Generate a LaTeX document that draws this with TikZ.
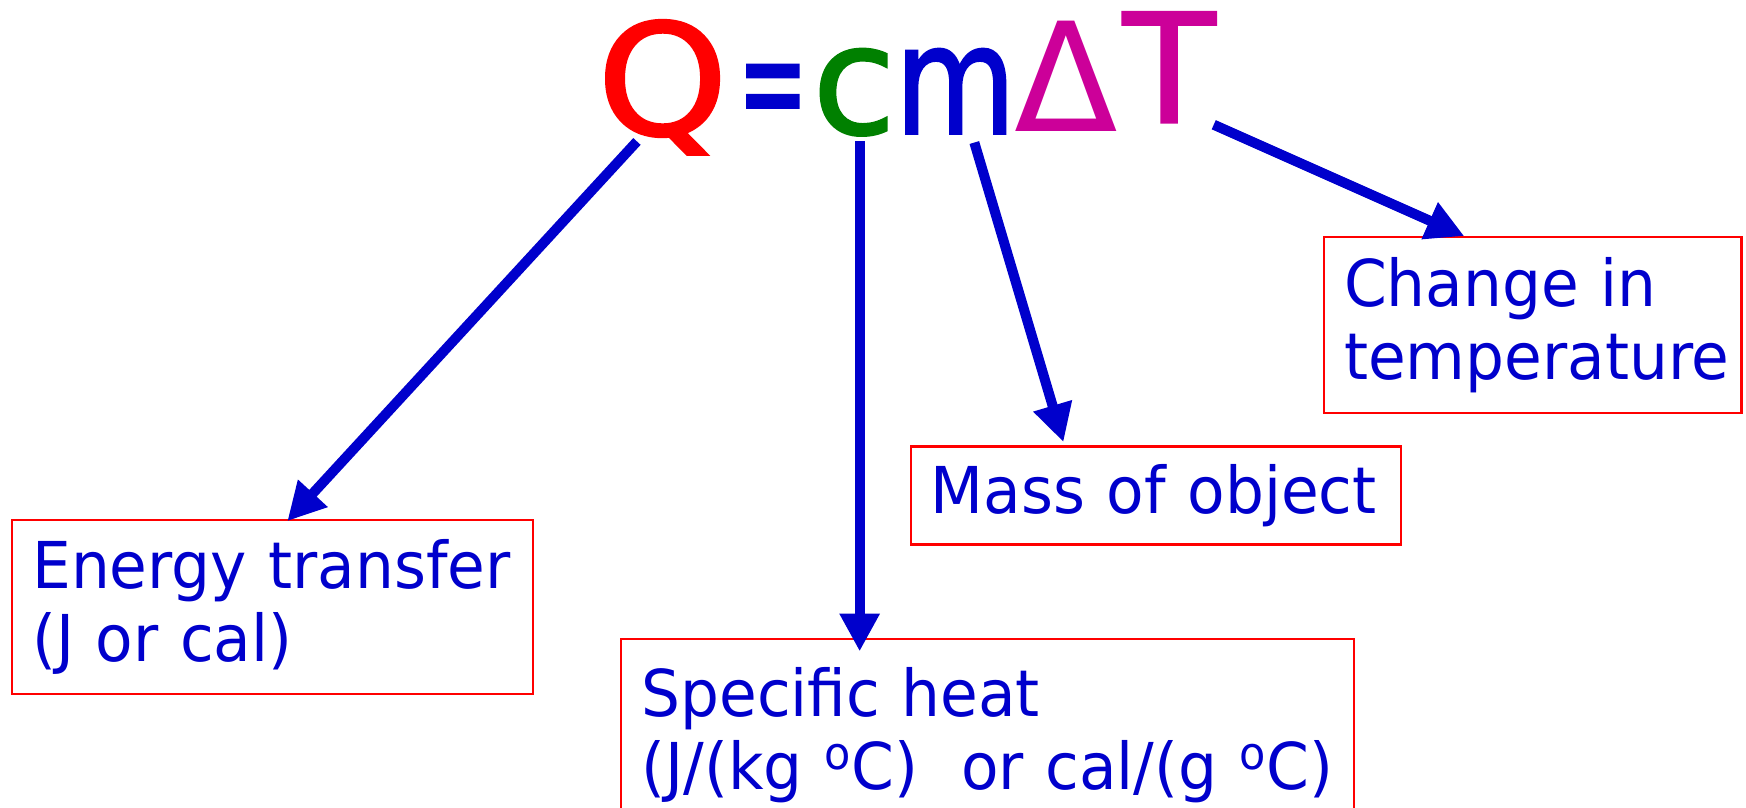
\documentclass[tikz,border=0pt]{standalone}
\usepackage{fontspec}
\setmainfont{DejaVu Sans}
\newfontfamily\boxfont[FakeStretch=0.95]{DejaVu Sans}
\newfontfamily\titlefont[FakeBold=1.6]{DejaVu Sans}
\usetikzlibrary{arrows.meta}
\definecolor{qred}{HTML}{FF0000}
\definecolor{cgreen}{HTML}{008000}
\definecolor{dblue}{HTML}{0000CC}
\definecolor{tmag}{HTML}{CC0099}
\begin{document}
\begin{tikzpicture}[x=0.5pt,y=-0.5pt,
  lbl/.style={draw=qred, line width=1pt, text=dblue, anchor=north west, align=left,
    inner xsep=9pt, inner ysep=0pt, font=\boxfont\fontsize{29}{33}\selectfont},
  sym/.style={anchor=base, inner sep=0pt, font=\titlefont\fontsize{68}{80}\selectfont},
  arr/.style={draw=dblue, line width=4.5pt, -{Triangle[length=17pt,width=17pt]}}]
\useasboundingbox (0,0) rectangle (1568,725);
\begin{scope}
\clip (0,0) rectangle (1568,725);
% formula
\node[sym, text=qred]  (Q)  at (595,121) {\scalebox{1.1}[1.02]{Q}};
\node[sym, text=dblue] (eq) at (694,120) {\scalebox{0.55}[1]{=}};
\node[sym, text=cgreen](c)  at (767,120) {c};
\node[sym, text=dblue] (m)  at (858,120) {\scalebox{0.82}[1]{m}};
\node[sym, text=tmag, font=\fontsize{68}{80}\selectfont]  (D)  at (958,118) {Δ};
\node[sym, text=tmag]  (T)  at (1050,110) {T};
% boxes
\node[lbl, minimum width=234pt, minimum height=78pt, text width=216pt] (energy) at (10,466)
  {Energy transfer\\(J or cal)};
\node[lbl, minimum width=329pt, minimum height=86pt, text width=311pt] (spec) at (557,573)
  {Specific heat\\\mbox{(J/(kg \textsuperscript{o}C)\ \ or cal/(g \textsuperscript{o}C)}};
\node[lbl, minimum width=220pt, minimum height=44pt, text width=202pt] (mass) at (817,400)
  {Mass of object};
\node[lbl, minimum width=187.5pt, minimum height=79pt, text width=169.5pt] (change) at (1188,212)
  {Change in\\temperature};
% arrow starts
\coordinate (s1) at (572,127);
\coordinate (s2) at (772,127);
\coordinate (s3) at (875,128);
\coordinate (s4) at (1090,112);
\draw[arr] (s1) -- ([xshift=124pt,yshift=-1pt]energy.north west);
\draw[arr] (s2) -- ([xshift=107.5pt,yshift=-6pt]spec.north west);
\draw[arr] (s3) -- ([xshift=69pt,yshift=1.5pt]mass.north west);
\draw[arr] (s4) -- ([xshift=63.5pt]change.north west);
\end{scope}
\end{tikzpicture}
\end{document}
